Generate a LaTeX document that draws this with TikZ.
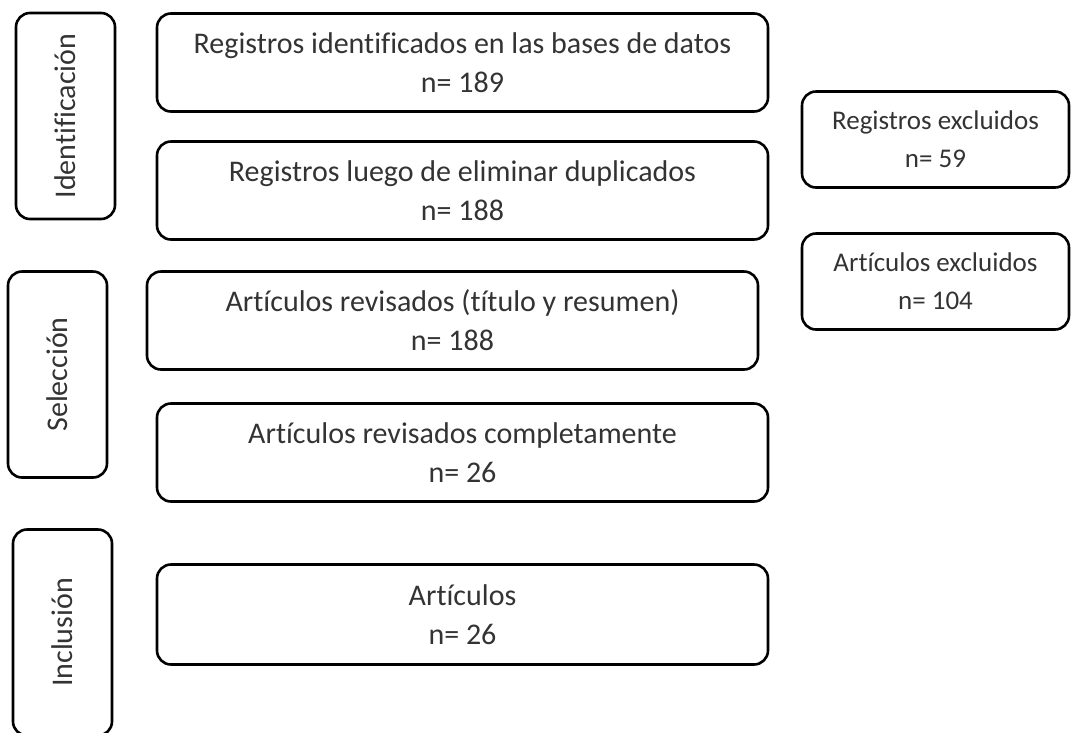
\documentclass[tikz,border=0pt]{standalone}
\usepackage{fontspec}
\setmainfont{Carlito}[Ligatures=CommonOff]
\usetikzlibrary{positioning}

\begin{document}
\begin{tikzpicture}
[x=1pt,y=-1pt,
  stepbox/.style={draw,line width=2.6pt,rounded corners=14pt,outer sep=0pt,
    align=center,minimum width=611pt,minimum height=98pt,
    font=\fontsize{30}{39}\selectfont,text=black!80},
  phase/.style={draw,line width=2.6pt,rounded corners=14pt,outer sep=0pt,
    rotate=90,minimum width=206pt,minimum height=99pt,
    font=\fontsize{30}{36}\selectfont,text=black!80},
  excl/.style={stepbox,minimum width=267pt,minimum height=96pt,
    font=\fontsize{27}{38}\selectfont}]
\useasboundingbox (0,0) rectangle (1071,732); \clip (0,0) rectangle (1071,732);
\node[stepbox](reg) at (462.5,62.5){Registros identificados en las bases de datos\\n= 189};
\node[stepbox, below = 30pt of reg](dup){Registros luego de eliminar duplicados\\n= 188};
\node[stepbox, below = 32pt of dup, xshift=-10pt](tit){Artículos revisados (título y resumen)\\n= 188};
\node[stepbox, below = 34pt of tit, xshift=10pt](comp){Artículos revisados completamente\\n= 26};
\node[stepbox, below = 63pt of comp,minimum height=100pt](art){Artículos\\n= 26};
% fases
\node[phase](ident) at (65.5,116){Identificación};
\node[phase](sel) at (57.5,374.5){Selección};
\node[phase](incl) at (62.5,632.5){Inclusión};
% excluidos
\node[excl](rexc) at (935.5,139.5){Registros excluidos\\n= 59};
\node[excl, below = 46pt of rexc](aexc){Artículos excluidos\\n= 104};
\end{tikzpicture}
\end{document}
